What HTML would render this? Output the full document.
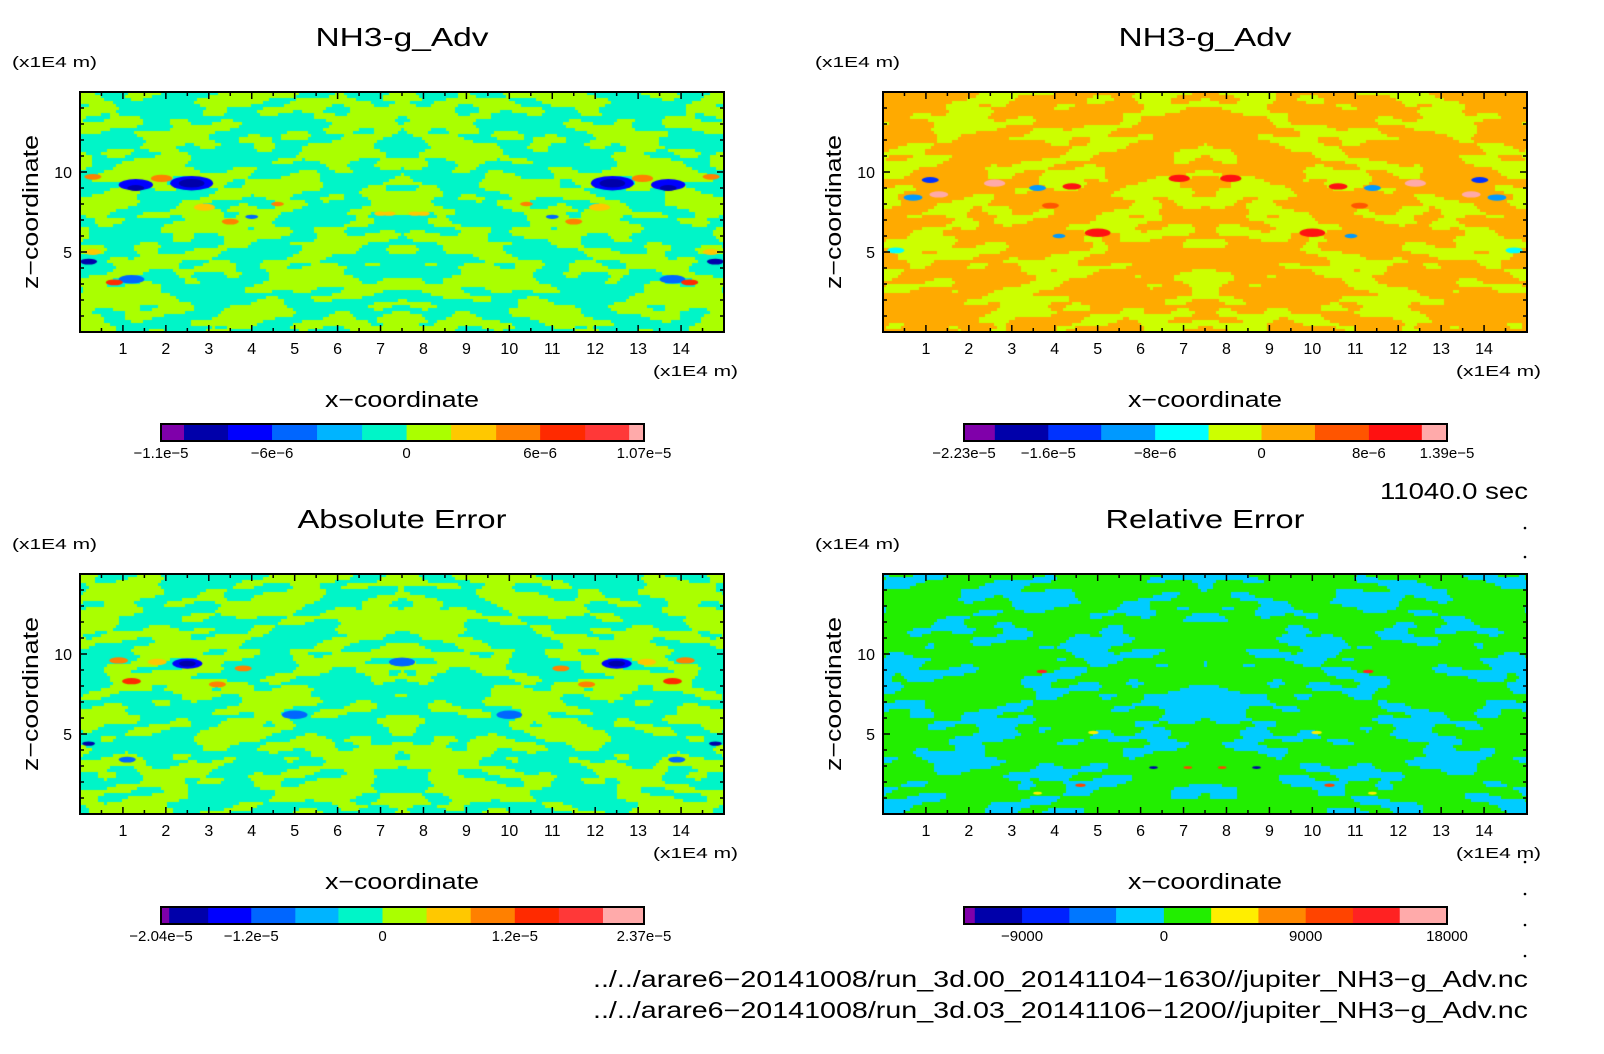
<!DOCTYPE html>
<html><head><meta charset="utf-8">
<style>
html,body{margin:0;padding:0;background:#fff;}
#root{position:relative;width:1604px;height:1054px;overflow:hidden;font-family:"Liberation Sans",sans-serif;}
canvas{position:absolute;}
svg{position:absolute;left:0;top:0;}
</style></head>
<body>
<div id="root">
<canvas id="c0"></canvas>
<canvas id="c1"></canvas>
<canvas id="c2"></canvas>
<canvas id="c3"></canvas>
<svg id="svg" width="1604" height="1054"></svg>
</div>
<script>
// ---- data ----
const xTicks = [1,2,3,4,5,6,7,8,9,10,11,12,13,14];
const yTicks = [5,10];
const titles = ["NH3-g_Adv","NH3-g_Adv","Absolute Error","Relative Error"];
const titleLen = [173,173,209,199];
const colorsTL = ["#7f00aa","#0000aa","#0000ff","#0066ff","#00b4ff","#00f5c8","#aaff00","#ffc800","#ff8000","#ff2a00","#ff3838","#ffaaaa"];
const boundsTL = [0,45,131,217,305,393,480,567,655,741,829,915,944];
const labelsTL = ["-1.1e-5","-6e-6","0","6e-6","1.07e-5"];
const labelPosTL = [0,217,480,741,944];
const colorsTR = ["#8000aa","#0000aa","#0033ff","#0099ff","#00ffff","#ccff00","#ffaa00","#ff5500","#ff1111","#ffaaaa"];
const boundsTR = [0,60,164,267,372,476,579,683,788,891,940];
const labelsTR = ["-2.23e-5","-1.6e-5","-8e-6","0","8e-6","1.39e-5"];
const labelPosTR = [0,164,372,579,788,940];
const colorsBL = ["#7f00aa","#0000aa","#0000ff","#0066ff","#00b4ff","#00f5c8","#aaff00","#ffc800","#ff8000","#ff2a00","#ff3838","#ffaaaa"];
const boundsBL = [0,8,46,88,131,173,216,259,302,345,388,431,471];
const labelsBL = ["-2.04e-5","-1.2e-5","0","1.2e-5","2.37e-5"];
const labelPosBL = [0,88,216,345,471];
const colorsBR = ["#8000aa","#0000aa","#0022ff","#0077ff","#00ccff","#22ee00","#ffee00","#ff8800","#ff4400","#ff2222","#ffaaaa"];
const boundsBR = [0,21,113,205,296,389,481,573,665,757,848,940];
const labelsBR = ["-9000","0","9000","18000"];
const labelPosBR = [113,389,665,940];
// features: [x, z, colorIndex, radius] (mirrored about x=7.5)
const spotsTL = [[1.3,9.2,2,0.4],[1.3,9.0,1,0.2],[2.6,9.3,2,0.5],[2.6,9.3,1,0.3],[0.3,9.7,8,0.2],[1.9,9.6,8,0.25],[2.9,7.8,7,0.25],[0.2,4.4,1,0.2],[0.3,5,7,0.2],[1.2,3.3,3,0.3],[0.8,3.1,9,0.2],[3.5,6.9,8,0.2],[4.0,7.2,3,0.15],[7.0,7.4,7,0.15],[7.8,7.4,7,0.15],[4.6,8.0,8,0.15]];
const spotsTR = [[2.6,9.3,9,0.25],[1.3,8.6,9,0.22],[0.7,8.4,3,0.22],[1.1,9.5,2,0.2],[3.6,9.0,3,0.2],[4.4,9.1,8,0.22],[6.9,9.6,8,0.25],[5.0,6.2,8,0.3],[4.1,6.0,3,0.15],[0.3,5.1,4,0.2],[3.9,7.9,7,0.2]];
const spotsBL = [[2.5,9.4,2,0.35],[2.5,9.4,1,0.2],[1.2,8.3,9,0.22],[0.9,9.6,8,0.22],[1.8,9.5,7,0.22],[3.2,8.1,8,0.2],[3.8,9.1,8,0.2],[5.0,6.2,3,0.3],[0.2,4.4,1,0.15],[1.1,3.4,3,0.2],[7.5,9.5,3,0.3]];
const spotsBR = [[3.7,8.9,9,0.12],[4.9,5.1,6,0.12],[6.3,2.9,1,0.1],[7.1,2.9,8,0.1],[3.6,1.3,6,0.1],[4.6,1.8,8,0.12]];
// ---- layout ----
const panels = [
 {c:"c0",x0:80,x1:724,y0:92,y1:332,colors:colorsTL,a:5,b:6,thr:0.0,spots:spotsTL,cb:[161,424],bounds:boundsTL,labels:labelsTL,lp:labelPosTL,seed:1},
 {c:"c1",x0:883,x1:1527,y0:92,y1:332,colors:colorsTR,a:5,b:6,thr:-0.25,spots:spotsTR,cb:[964,424],bounds:boundsTR,labels:labelsTR,lp:labelPosTR,seed:2},
 {c:"c2",x0:80,x1:724,y0:574,y1:814,colors:colorsBL,a:5,b:6,thr:0.0,spots:spotsBL,cb:[161,907],bounds:boundsBL,labels:labelsBL,lp:labelPosBL,seed:3},
 {c:"c3",x0:883,x1:1527,y0:574,y1:814,colors:colorsBR,a:4,b:5,thr:-0.35,spots:spotsBR,cb:[964,907],bounds:boundsBR,labels:labelsBR,lp:labelPosBR,seed:4}
];
const NS="http://www.w3.org/2000/svg";
const svg=document.getElementById("svg");
function el(tag,attrs,txt){const e=document.createElementNS(NS,tag);for(const k in attrs)e.setAttribute(k,attrs[k]);if(txt!==undefined)e.textContent=txt;svg.appendChild(e);return e;}
function field(x,z,s){
  const xm=Math.abs(x-7.5);
  return Math.sin(xm*1.7+z*0.9+s)*0.45+Math.sin(z*2.3-xm*0.8+s*2)*0.4+Math.cos(xm*3.1+z*1.3)*0.3
   +Math.sin(xm*2.5+z*4.1+s)*0.35+Math.cos(z*0.6-xm*1.1)*0.25+Math.sin(xm*5.3-z*2.7+s*3)*0.3
   +Math.cos(xm*4.4+z*5.9)*0.25+Math.sin(z*7.3+xm*1.9+s)*0.2;
}
panels.forEach((p,pi)=>{
  const cv=document.getElementById(p.c);
  const W=p.x1-p.x0,H=p.y1-p.y0;
  cv.width=W;cv.height=H;cv.style.left=p.x0+"px";cv.style.top=p.y0+"px";
  const ctx=cv.getContext("2d");
  const sx=v=>(v/15)*W, sz=v=>H-(v/15)*H;
  const cell=3;
  for(let i=0;i<W;i+=cell){for(let j=0;j<H;j+=cell){
    const x=(i+1.5)/W*15,z=15-(j+1.5)/H*15;
    const v=field(x,z,p.seed);
    ctx.fillStyle=p.colors[v>p.thr?p.b:p.a];
    ctx.fillRect(i,j,cell,cell);
  }}
  p.spots.forEach(s=>{
    [s[0],15-s[0]].forEach(xx=>{
      ctx.fillStyle=p.colors[s[2]];
      ctx.beginPath();ctx.ellipse(sx(xx),sz(s[1]),s[3]/15*W,s[3]/15*H*0.9,0,0,Math.PI*2);ctx.fill();
    });
  });
  const W2=W;
  el("rect",{x:p.x0,y:p.y0,width:W,height:H,fill:"none",stroke:"#000","stroke-width":2});
  for(let v=0.5;v<15;v+=0.5){
    const X=p.x0+sx(v),L=Number.isInteger(v)?7:4;
    el("line",{x1:X,x2:X,y1:p.y1,y2:p.y1-L,stroke:"#000","stroke-width":1.5});
    el("line",{x1:X,x2:X,y1:p.y0,y2:p.y0+L,stroke:"#000","stroke-width":1.5});
  }
  for(let v=1;v<15;v++){
    const Y=p.y0+sz(v),L=v%5===0?7:4;
    el("line",{x1:p.x0,x2:p.x0+L,y1:Y,y2:Y,stroke:"#000","stroke-width":1.5});
    el("line",{x1:p.x1,x2:p.x1-L,y1:Y,y2:Y,stroke:"#000","stroke-width":1.5});
  }
  xTicks.forEach(v=>{const t=el("text",{x:p.x0+sx(v),y:p.y1+22,"font-size":16,"text-anchor":"middle"},String(v));});
  yTicks.forEach(v=>{const t=el("text",{x:p.x0-8,y:p.y0+sz(v)+6,"font-size":16,"text-anchor":"end"},String(v));});
  const cx=(p.x0+p.x1)/2;
  let t=el("text",{x:cx-titleLen[pi]/2,y:p.y0-46,"font-size":26,textLength:titleLen[pi],lengthAdjust:"spacingAndGlyphs"},titles[pi]);
  
  t=el("text",{x:p.x0-68,y:p.y0-25,"font-size":15,textLength:85,lengthAdjust:"spacingAndGlyphs"},"(x1E4 m)");
  
  t=el("text",{x:p.x1-71,y:p.y1+44,"font-size":15,textLength:85,lengthAdjust:"spacingAndGlyphs"},"(x1E4 m)");
  
  t=el("text",{x:cx-77,y:p.y1+75,"font-size":22,textLength:154,lengthAdjust:"spacingAndGlyphs"},"x\u2212coordinate");
  
  const ly=(p.y0+p.y1)/2, lx=p.x0-50;
  t=el("text",{x:lx-77,y:ly+8,"font-size":22,textLength:154,lengthAdjust:"spacingAndGlyphs",transform:"rotate(-90 "+lx+" "+ly+")"},"z\u2212coordinate");
  
  const k=483/p.bounds[p.bounds.length-1];
  p.colors.forEach((c,ci)=>{
    const r=el("rect",{x:p.cb[0]+p.bounds[ci]*k,y:p.cb[1],width:(p.bounds[ci+1]-p.bounds[ci])*k+0.5,height:17,fill:c});
    
  });
  el("rect",{x:p.cb[0],y:p.cb[1],width:483,height:17,fill:"none",stroke:"#000","stroke-width":2});
  p.labels.forEach((lab,li)=>{
    const tt=el("text",{x:p.cb[0]+p.lp[li]*k,y:p.cb[1]+34,"font-size":15,"text-anchor":"middle"},lab.replace(/-/g,"\u2212"));
    
  });
});
let t=el("text",{x:1380,y:499,"font-size":23,textLength:148,lengthAdjust:"spacingAndGlyphs"},"11040.0 sec");

t=el("text",{x:593,y:987,"font-size":23,textLength:935,lengthAdjust:"spacingAndGlyphs"},"../../arare6\u221220141008/run_3d.00_20141104\u22121630//jupiter_NH3\u2212g_Adv.nc");

t=el("text",{x:593,y:1018,"font-size":23,textLength:935,lengthAdjust:"spacingAndGlyphs"},"../../arare6\u221220141008/run_3d.03_20141106\u22121200//jupiter_NH3\u2212g_Adv.nc");

const dots=[528,557,862,894,925,956];
dots.forEach(y=>{const d=el("circle",{cx:1525,cy:y,r:1.3,fill:"#000"});});
</script>
</body></html>
